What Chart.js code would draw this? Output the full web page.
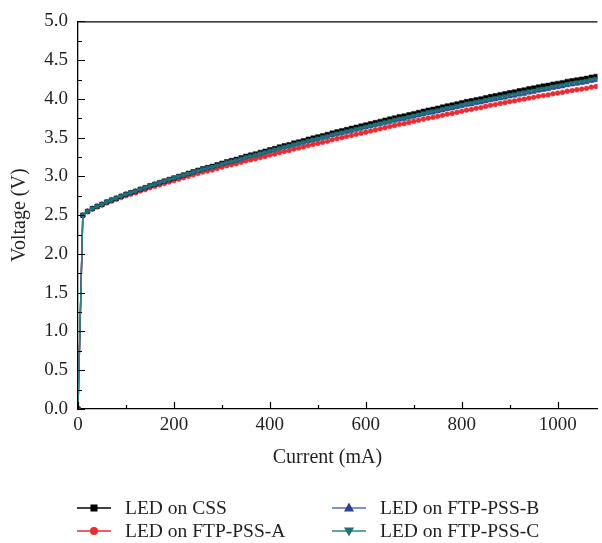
<!DOCTYPE html>
<html>
<head>
<meta charset="utf-8">
<script src="https://cdn.jsdelivr.net/npm/chart.js@4.4.1/dist/chart.umd.min.js"></script>
<style>
    html, body { margin: 0; padding: 0; background: #fff; overflow: hidden; }
    #wrap { position: relative; width: 602px; height: 543px; }
    #ivChart { position: absolute; left: 0; top: 0; }
    .leg-item {
        position: absolute; display: flex; align-items: center; height: 22px;
        font-family: 'Liberation Serif', 'DejaVu Serif', serif; font-size: 19.5px; color: #231f20;
        white-space: nowrap;
    }
    .leg-item svg { margin-right: 12px; }
</style>
</head>
<body>
<div id="wrap">
    <canvas id="ivChart" width="602" height="543"></canvas>
    <div id="legend"></div>
</div>
<script>
// ── DATA ─────────────────────────────────────────────────────────
const SERIES_NAMES = ['LED on CSS', 'LED on FTP-PSS-A', 'LED on FTP-PSS-B', 'LED on FTP-PSS-C'];

const X_TICKS = [0, 200, 400, 600, 800, 1000];
const Y_TICKS = [0.0, 0.5, 1.0, 1.5, 2.0, 2.5, 3.0, 3.5, 4.0, 4.5, 5.0];

const current = [
    0, 10, 20, 30, 40, 50, 60, 70, 80, 90,
    100, 110, 120, 130, 140, 150, 160, 170, 180, 190,
    200, 210, 220, 230, 240, 250, 260, 270, 280, 290,
    300, 310, 320, 330, 340, 350, 360, 370, 380, 390,
    400, 410, 420, 430, 440, 450, 460, 470, 480, 490,
    500, 510, 520, 530, 540, 550, 560, 570, 580, 590,
    600, 610, 620, 630, 640, 650, 660, 670, 680, 690,
    700, 710, 720, 730, 740, 750, 760, 770, 780, 790,
    800, 810, 820, 830, 840, 850, 860, 870, 880, 890,
    900, 910, 920, 930, 940, 950, 960, 970, 980, 990,
    1000, 1010, 1020, 1030, 1040, 1050, 1060, 1070, 1080
];

const vCSS = [
    0, 2.50, 2.55, 2.585, 2.615, 2.64, 2.67, 2.695, 2.72, 2.745,
    2.77, 2.79, 2.81, 2.835, 2.855, 2.88, 2.90, 2.92, 2.94, 2.96,
    2.98, 3.00, 3.02, 3.04, 3.06, 3.08, 3.10, 3.115, 3.13, 3.15,
    3.17, 3.19, 3.205, 3.22, 3.24, 3.26, 3.275, 3.29, 3.31, 3.325,
    3.345, 3.36, 3.38, 3.395, 3.41, 3.43, 3.445, 3.46, 3.48, 3.495,
    3.51, 3.525, 3.54, 3.56, 3.575, 3.59, 3.605, 3.62, 3.635, 3.65,
    3.665, 3.68, 3.695, 3.71, 3.725, 3.74, 3.755, 3.77, 3.78, 3.795,
    3.81, 3.825, 3.84, 3.855, 3.865, 3.88, 3.895, 3.91, 3.92, 3.935,
    3.95, 3.965, 3.975, 3.99, 4.00, 4.015, 4.03, 4.04, 4.055, 4.065,
    4.08, 4.09, 4.105, 4.115, 4.13, 4.14, 4.155, 4.165, 4.175, 4.19,
    4.20, 4.21, 4.225, 4.235, 4.245, 4.255, 4.265, 4.28, 4.29
];

const vPssA = [
    0, 2.498, 2.546, 2.579, 2.607, 2.630, 2.658, 2.681, 2.704, 2.727,
    2.750, 2.769, 2.787, 2.811, 2.829, 2.853, 2.871, 2.890, 2.908, 2.927,
    2.945, 2.964, 2.982, 3.001, 3.019, 3.038, 3.056, 3.070, 3.083, 3.102,
    3.120, 3.138, 3.151, 3.164, 3.182, 3.200, 3.213, 3.226, 3.244, 3.257,
    3.275, 3.289, 3.307, 3.321, 3.334, 3.353, 3.366, 3.380, 3.398, 3.412,
    3.425, 3.439, 3.453, 3.472, 3.486, 3.500, 3.514, 3.528, 3.542, 3.556,
    3.570, 3.585, 3.599, 3.614, 3.628, 3.643, 3.657, 3.672, 3.681, 3.696,
    3.710, 3.724, 3.738, 3.752, 3.761, 3.775, 3.789, 3.803, 3.812, 3.826,
    3.840, 3.855, 3.864, 3.879, 3.888, 3.903, 3.917, 3.927, 3.941, 3.951,
    3.965, 3.974, 3.988, 3.997, 4.011, 4.020, 4.034, 4.043, 4.052, 4.066,
    4.075, 4.084, 4.099, 4.108, 4.118, 4.127, 4.136, 4.151, 4.160
];

const vPssB = [
    0, 2.50, 2.55, 2.585, 2.615, 2.64, 2.67, 2.695, 2.72, 2.745,
    2.77, 2.789, 2.809, 2.833, 2.853, 2.878, 2.897, 2.917, 2.936, 2.956,
    2.975, 2.994, 3.013, 3.032, 3.051, 3.070, 3.089, 3.103, 3.117, 3.136,
    3.155, 3.175, 3.189, 3.204, 3.223, 3.243, 3.257, 3.272, 3.291, 3.306,
    3.325, 3.339, 3.358, 3.372, 3.386, 3.405, 3.419, 3.433, 3.452, 3.466,
    3.480, 3.495, 3.509, 3.529, 3.543, 3.558, 3.572, 3.587, 3.601, 3.616,
    3.630, 3.645, 3.659, 3.674, 3.688, 3.703, 3.717, 3.732, 3.741, 3.756,
    3.770, 3.785, 3.799, 3.814, 3.823, 3.838, 3.852, 3.867, 3.876, 3.891,
    3.905, 3.920, 3.929, 3.944, 3.953, 3.968, 3.982, 3.992, 4.006, 4.016,
    4.030, 4.04, 4.055, 4.065, 4.08, 4.09, 4.105, 4.115, 4.125, 4.14,
    4.15, 4.16, 4.175, 4.185, 4.195, 4.205, 4.215, 4.23, 4.24
];

const vPssC = [
    0, 2.50, 2.55, 2.585, 2.615, 2.64, 2.67, 2.695, 2.72, 2.745,
    2.77, 2.79, 2.81, 2.835, 2.855, 2.88, 2.90, 2.92, 2.94, 2.96,
    2.98, 2.999, 3.018, 3.037, 3.056, 3.075, 3.094, 3.108, 3.122, 3.141,
    3.160, 3.180, 3.194, 3.209, 3.228, 3.248, 3.262, 3.277, 3.296, 3.311,
    3.330, 3.345, 3.364, 3.379, 3.393, 3.413, 3.427, 3.442, 3.461, 3.476,
    3.490, 3.505, 3.519, 3.539, 3.553, 3.568, 3.582, 3.597, 3.611, 3.626,
    3.640, 3.655, 3.670, 3.685, 3.700, 3.715, 3.730, 3.745, 3.755, 3.770,
    3.785, 3.800, 3.815, 3.830, 3.840, 3.855, 3.870, 3.885, 3.895, 3.910,
    3.925, 3.940, 3.949, 3.964, 3.973, 3.988, 4.002, 4.012, 4.026, 4.036,
    4.050, 4.06, 4.075, 4.085, 4.10, 4.11, 4.125, 4.135, 4.145, 4.16,
    4.17, 4.18, 4.195, 4.205, 4.215, 4.225, 4.235, 4.25, 4.26
];

// ── STYLE ────────────────────────────────────────────────────────
const FONT = "'Liberation Serif', 'DejaVu Serif', serif";
const INK = '#231f20';

const STYLES = [
    { line: '#000000', mark: '#000000', shape: 'rect',     radius: 3.2, rot: 0,   order: 2 },
    { line: '#ee2a2e', mark: '#ee2a2e', shape: 'circle',   radius: 2.4, rot: 0,   order: 3 },
    { line: '#4f6fba', mark: '#2e3f98', shape: 'triangle', radius: 3.0, rot: 0,   order: 1 },
    { line: '#2a8784', mark: '#1c7371', shape: 'triangle', radius: 3.0, rot: 180, order: 0 }
];

const SERIES_VALUES = [vCSS, vPssA, vPssB, vPssC];

Chart.defaults.font.family = FONT;
Chart.defaults.color = INK;

// inward ticks (major + minor), top frame line, x title placed like the figure
const frameTicks = {
    id: 'frameTicks',
    afterDatasetsDraw(chart) {
        const { ctx, chartArea: a, scales: { x, y } } = chart;
        ctx.save();
        ctx.strokeStyle = '#000';
        ctx.lineWidth = 1.2;
        ctx.beginPath();
        ctx.moveTo(a.left, a.top + 0.5);
        ctx.lineTo(a.right, a.top + 0.5);

        const xt = x.ticks.map(t => t.value);
        xt.forEach((v, i) => {
            const px = Math.round(x.getPixelForValue(v)) + 0.5;
            ctx.moveTo(px, a.bottom); ctx.lineTo(px, a.bottom - 7);
            if (i < xt.length - 1) {
                const pm = Math.round(x.getPixelForValue((v + xt[i + 1]) / 2)) + 0.5;
                ctx.moveTo(pm, a.bottom); ctx.lineTo(pm, a.bottom - 4);
            }
        });
        const yt = y.ticks.map(t => t.value);
        yt.forEach((v, i) => {
            const py = Math.round(y.getPixelForValue(v)) + 0.5;
            ctx.moveTo(a.left, py); ctx.lineTo(a.left + 7, py);
            if (i < yt.length - 1) {
                const pm = Math.round(y.getPixelForValue((v + yt[i + 1]) / 2)) + 0.5;
                ctx.moveTo(pm === pm ? a.left : a.left, pm); ctx.lineTo(a.left + 4, pm);
            }
        });
        ctx.stroke();

        // x axis title, centred where the original figure has it
        ctx.fillStyle = INK;
        ctx.font = `20px ${FONT}`;
        ctx.textAlign = 'center';
        ctx.textBaseline = 'middle';
        ctx.fillText('Current (mA)', x.getPixelForValue(520), 458);
        ctx.restore();
    }
};

new Chart(document.getElementById('ivChart'), {
    type: 'line',
    data: {
        datasets: SERIES_NAMES.map((name, k) => ({
            label: name,
            data: current.map((c, i) => ({ x: c, y: SERIES_VALUES[k][i] })),
            borderColor: STYLES[k].line,
            borderWidth: 1.4,
            backgroundColor: STYLES[k].mark,
            pointBackgroundColor: STYLES[k].mark,
            pointBorderColor: STYLES[k].mark,
            pointBorderWidth: 0.5,
            pointStyle: STYLES[k].shape,
            pointRotation: STYLES[k].rot,
            pointRadius: STYLES[k].radius,
            order: STYLES[k].order,
            tension: 0
        }))
    },
    options: {
        responsive: false,
        animation: false,
        layout: { padding: { top: 20, right: 0, bottom: 72, left: 0 } },
        plugins: { legend: { display: false }, tooltip: { enabled: false } },
        scales: {
            x: {
                type: 'linear',
                min: 0,
                max: 1083,
                afterFit: s => { s.height = 62; },
                afterBuildTicks: s => { s.ticks = X_TICKS.map(v => ({ value: v })); },
                grid: { display: false, drawTicks: false },
                border: { display: true, color: '#000', width: 1.3 },
                ticks: { padding: 5, font: { size: 19 }, color: INK, callback: v => String(v) },
                title: { display: false }
            },
            y: {
                min: 0,
                max: 5,
                afterFit: s => { s.width = 78; },
                afterBuildTicks: s => { s.ticks = Y_TICKS.map(v => ({ value: v })); },
                grid: { display: false, drawTicks: false },
                border: { display: true, color: '#000', width: 1.3 },
                ticks: { padding: 10, font: { size: 19 }, color: INK, callback: v => v.toFixed(1) },
                title: { display: true, text: 'Voltage (V)', font: { size: 20 }, color: INK, padding: { top: 8, bottom: 0 } }
            }
        }
    },
    plugins: [frameTicks]
});

// ── LEGEND (two columns, like the figure) ────────────────────────
const LEGEND_POS = [
    { left: 77, top: 497 },
    { left: 77, top: 520 },
    { left: 332, top: 497 },
    { left: 332, top: 520 }
];

function markerSvg(st) {
    const c = st.mark;
    let m = '';
    if (st.shape === 'rect') m = `<rect x="13.5" y="3.5" width="7" height="7" fill="${c}"/>`;
    else if (st.shape === 'circle') m = `<circle cx="17" cy="7" r="4" fill="${c}"/>`;
    else if (st.rot === 0) m = `<polygon points="17,1.5 22,10.5 12,10.5" fill="${c}"/>`;
    else m = `<polygon points="17,12.5 22,3.5 12,3.5" fill="${c}"/>`;
    return `<svg width="36" height="14" viewBox="0 0 36 14">
        <line x1="0" y1="7" x2="34" y2="7" stroke="${st.line}" stroke-width="1.6"/>${m}</svg>`;
}

document.getElementById('legend').innerHTML = SERIES_NAMES.map((name, k) => `
    <div class="leg-item" style="left:${LEGEND_POS[k].left}px; top:${LEGEND_POS[k].top}px;">
        ${markerSvg(STYLES[k])}<span>${name}</span>
    </div>
`).join('');
</script>
</body>
</html>
